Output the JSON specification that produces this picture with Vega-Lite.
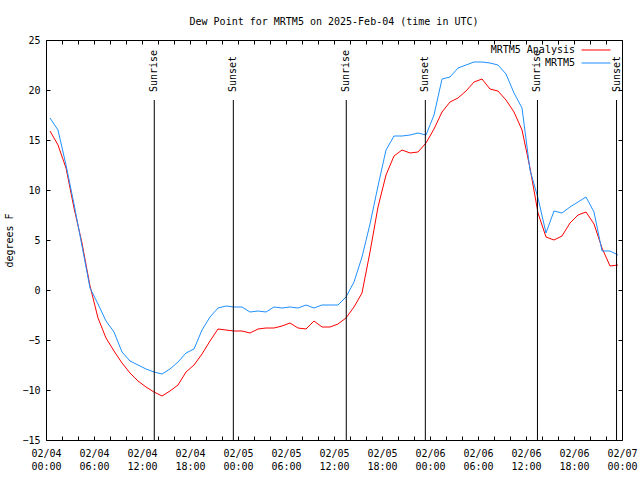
{
  "$schema": "https://vega.github.io/schema/vega-lite/v6.json",
  "width": 576,
  "height": 400,
  "autosize": {"type": "none"},
  "padding": {"left": 46, "top": 40, "right": 18, "bottom": 40},
  "background": "white",
  "title": {"text": "Dew Point for MRTM5 on 2025-Feb-04 (time in UTC)", "font": "DejaVu Sans Mono", "fontSize": 10, "fontWeight": "normal", "color": "black", "anchor": "middle", "baseline": "alphabetic", "offset": 0},
  "config": {
    "view": {"stroke": "black", "strokeWidth": 1},
    "font": "DejaVu Sans Mono",
    "axis": {"domain": false, "grid": false, "labelFont": "DejaVu Sans Mono", "labelFontSize": 10, "labelColor": "black", "titleFont": "DejaVu Sans Mono", "titleFontSize": 10, "titleFontWeight": "normal", "titleColor": "black", "tickColor": "black", "labelOverlap": false, "labelFlush": false, "labelBound": false}
  },
  "datasets": {
    "dew": [
      {"t": "2025-02-04T00:30:00Z", "a": 15.9, "m": 17.2},
      {"t": "2025-02-04T01:30:00Z", "a": 14.5, "m": 16.0},
      {"t": "2025-02-04T02:30:00Z", "a": 12.2, "m": 12.5},
      {"t": "2025-02-04T03:30:00Z", "a": 8.2, "m": 8.6},
      {"t": "2025-02-04T04:30:00Z", "a": 4.7, "m": 4.4},
      {"t": "2025-02-04T05:30:00Z", "a": 0.4, "m": 0.2},
      {"t": "2025-02-04T06:30:00Z", "a": -2.8, "m": -1.4},
      {"t": "2025-02-04T07:30:00Z", "a": -4.8, "m": -3.1},
      {"t": "2025-02-04T08:30:00Z", "a": -6.1, "m": -4.2},
      {"t": "2025-02-04T09:30:00Z", "a": -7.3, "m": -6.2},
      {"t": "2025-02-04T10:30:00Z", "a": -8.3, "m": -7.1},
      {"t": "2025-02-04T11:30:00Z", "a": -9.1, "m": -7.5},
      {"t": "2025-02-04T12:30:00Z", "a": -9.7, "m": -7.9},
      {"t": "2025-02-04T13:30:00Z", "a": -10.2, "m": -8.2},
      {"t": "2025-02-04T14:30:00Z", "a": -10.6, "m": -8.4},
      {"t": "2025-02-04T15:30:00Z", "a": -10.1, "m": -7.9},
      {"t": "2025-02-04T16:30:00Z", "a": -9.5, "m": -7.2},
      {"t": "2025-02-04T17:30:00Z", "a": -8.2, "m": -6.3},
      {"t": "2025-02-04T18:30:00Z", "a": -7.5, "m": -5.9},
      {"t": "2025-02-04T19:30:00Z", "a": -6.4, "m": -4.0},
      {"t": "2025-02-04T20:30:00Z", "a": -5.1, "m": -2.7},
      {"t": "2025-02-04T21:30:00Z", "a": -3.9, "m": -1.8},
      {"t": "2025-02-04T22:30:00Z", "a": -4.0, "m": -1.6},
      {"t": "2025-02-04T23:30:00Z", "a": -4.1, "m": -1.7},
      {"t": "2025-02-05T00:30:00Z", "a": -4.1, "m": -1.7},
      {"t": "2025-02-05T01:30:00Z", "a": -4.3, "m": -2.2},
      {"t": "2025-02-05T02:30:00Z", "a": -3.9, "m": -2.1},
      {"t": "2025-02-05T03:30:00Z", "a": -3.8, "m": -2.2},
      {"t": "2025-02-05T04:30:00Z", "a": -3.8, "m": -1.7},
      {"t": "2025-02-05T05:30:00Z", "a": -3.6, "m": -1.8},
      {"t": "2025-02-05T06:30:00Z", "a": -3.3, "m": -1.7},
      {"t": "2025-02-05T07:30:00Z", "a": -3.8, "m": -1.8},
      {"t": "2025-02-05T08:30:00Z", "a": -3.9, "m": -1.5},
      {"t": "2025-02-05T09:30:00Z", "a": -3.1, "m": -1.8},
      {"t": "2025-02-05T10:30:00Z", "a": -3.7, "m": -1.5},
      {"t": "2025-02-05T11:30:00Z", "a": -3.7, "m": -1.5},
      {"t": "2025-02-05T12:30:00Z", "a": -3.4, "m": -1.5},
      {"t": "2025-02-05T13:30:00Z", "a": -2.8, "m": -0.7},
      {"t": "2025-02-05T14:30:00Z", "a": -1.7, "m": 0.8},
      {"t": "2025-02-05T15:30:00Z", "a": -0.3, "m": 3.3},
      {"t": "2025-02-05T16:30:00Z", "a": 3.8, "m": 6.6},
      {"t": "2025-02-05T17:30:00Z", "a": 8.3, "m": 10.4},
      {"t": "2025-02-05T18:30:00Z", "a": 11.5, "m": 14.0},
      {"t": "2025-02-05T19:30:00Z", "a": 13.4, "m": 15.4},
      {"t": "2025-02-05T20:30:00Z", "a": 14.0, "m": 15.4},
      {"t": "2025-02-05T21:30:00Z", "a": 13.7, "m": 15.5},
      {"t": "2025-02-05T22:30:00Z", "a": 13.8, "m": 15.7},
      {"t": "2025-02-05T23:30:00Z", "a": 14.7, "m": 15.5},
      {"t": "2025-02-06T00:30:00Z", "a": 16.1, "m": 17.5},
      {"t": "2025-02-06T01:30:00Z", "a": 17.8, "m": 21.1},
      {"t": "2025-02-06T02:30:00Z", "a": 18.8, "m": 21.3},
      {"t": "2025-02-06T03:30:00Z", "a": 19.2, "m": 22.2},
      {"t": "2025-02-06T04:30:00Z", "a": 19.9, "m": 22.5},
      {"t": "2025-02-06T05:30:00Z", "a": 20.8, "m": 22.8},
      {"t": "2025-02-06T06:30:00Z", "a": 21.1, "m": 22.8},
      {"t": "2025-02-06T07:30:00Z", "a": 20.1, "m": 22.7},
      {"t": "2025-02-06T08:30:00Z", "a": 19.9, "m": 22.5},
      {"t": "2025-02-06T09:30:00Z", "a": 19.0, "m": 21.6},
      {"t": "2025-02-06T10:30:00Z", "a": 17.8, "m": 19.7},
      {"t": "2025-02-06T11:30:00Z", "a": 16.0, "m": 18.2},
      {"t": "2025-02-06T12:30:00Z", "a": 12.2, "m": 12.0},
      {"t": "2025-02-06T13:30:00Z", "a": 7.7, "m": 9.2},
      {"t": "2025-02-06T14:30:00Z", "a": 5.3, "m": 5.7},
      {"t": "2025-02-06T15:30:00Z", "a": 5.0, "m": 7.9},
      {"t": "2025-02-06T16:30:00Z", "a": 5.4, "m": 7.7},
      {"t": "2025-02-06T17:30:00Z", "a": 6.7, "m": 8.3},
      {"t": "2025-02-06T18:30:00Z", "a": 7.5, "m": 8.8},
      {"t": "2025-02-06T19:30:00Z", "a": 7.8, "m": 9.3},
      {"t": "2025-02-06T20:30:00Z", "a": 6.6, "m": 7.8},
      {"t": "2025-02-06T21:30:00Z", "a": 4.2, "m": 3.9},
      {"t": "2025-02-06T22:30:00Z", "a": 2.4, "m": 3.9},
      {"t": "2025-02-06T23:30:00Z", "a": 2.5, "m": 3.5}
    ],
    "sun": [
      {"t": "2025-02-04T13:32:00Z", "e": "Sunrise"},
      {"t": "2025-02-04T23:25:00Z", "e": "Sunset"},
      {"t": "2025-02-05T13:32:00Z", "e": "Sunrise"},
      {"t": "2025-02-05T23:25:00Z", "e": "Sunset"},
      {"t": "2025-02-06T13:26:00Z", "e": "Sunrise"},
      {"t": "2025-02-06T23:19:00Z", "e": "Sunset"}
    ]
  },
  "layer": [
    {
      "data": {"name": "dew"},
      "transform": [{"fold": ["a", "m"], "as": ["k", "v"]}],
      "mark": {"type": "line", "strokeWidth": 1},
      "encoding": {
        "x": {
          "field": "t", "type": "temporal",
          "scale": {"type": "utc", "domain": [1738627200000, 1738886400000], "nice": false},
          "axis": {
            "orient": "bottom", "title": null,
            "values": [1738627200000, 1738634400000, 1738641600000, 1738648800000, 1738656000000, 1738663200000, 1738670400000, 1738677600000, 1738684800000, 1738692000000, 1738699200000, 1738706400000, 1738713600000, 1738720800000, 1738728000000, 1738735200000, 1738742400000, 1738749600000, 1738756800000, 1738764000000, 1738771200000, 1738778400000, 1738785600000, 1738792800000, 1738800000000, 1738807200000, 1738814400000, 1738821600000, 1738828800000, 1738836000000, 1738843200000, 1738850400000, 1738857600000, 1738864800000, 1738872000000, 1738879200000, 1738886400000],
            "tickSize": -4,
            "encode": {"ticks": {"update": {"y2": {"signal": "utchours(datum.value) % 6 === 0 ? -5 : -3"}}}},
            "labelExpr": "utchours(datum.value) % 6 === 0 ? [utcFormat(datum.value, '%m/%d'), utcFormat(datum.value, '%H:%M')] : ''",
            "labelPadding": 12, "labelLineHeight": 13, "labelAlign": "center"
          }
        },
        "y": {
          "field": "v", "type": "quantitative",
          "scale": {"domain": [-15, 25], "nice": false, "zero": false},
          "axis": {"orient": "left", "title": "degrees F", "values": [-15, -10, -5, 0, 5, 10, 15, 20, 25], "tickSize": -4, "labelPadding": 10, "titlePadding": 7}
        },
        "color": {
          "field": "k", "type": "nominal",
          "scale": {"domain": ["a", "m"], "range": ["#ff0000", "#1e90ff"]},
          "legend": {
            "title": null, "orient": "none", "legendX": 535, "legendY": 5, "padding": 0,
            "symbolType": "stroke", "symbolSize": 841, "symbolStrokeWidth": 1,
            "encode": {"symbols": {"update": {"y": {"value": 5}}}, "labels": {"update": {"y": {"value": 5}}}},
            "labelExpr": "datum.label === 'a' ? 'MRTM5 Analysis' : 'MRTM5'",
            "labelFont": "DejaVu Sans Mono", "labelFontSize": 10, "labelColor": "black",
            "labelAlign": "right", "labelOffset": -36, "rowPadding": 3
          }
        }
      }
    },
    {
      "data": {"name": "sun"},
      "mark": {"type": "rule", "color": "black", "strokeWidth": 1},
      "encoding": {
        "x": {
          "field": "t", "type": "temporal",
          "axis": {
            "orient": "top", "title": null, "labels": false,
            "values": [1738627200000, 1738634400000, 1738641600000, 1738648800000, 1738656000000, 1738663200000, 1738670400000, 1738677600000, 1738684800000, 1738692000000, 1738699200000, 1738706400000, 1738713600000, 1738720800000, 1738728000000, 1738735200000, 1738742400000, 1738749600000, 1738756800000, 1738764000000, 1738771200000, 1738778400000, 1738785600000, 1738792800000, 1738800000000, 1738807200000, 1738814400000, 1738821600000, 1738828800000, 1738836000000, 1738843200000, 1738850400000, 1738857600000, 1738864800000, 1738872000000, 1738879200000, 1738886400000],
            "tickSize": -4,
            "encode": {"ticks": {"update": {"y2": {"signal": "utchours(datum.value) % 6 === 0 ? 5 : 3"}}}}
          }
        },
        "y": {"datum": 19, "type": "quantitative", "axis": {"orient": "right", "title": null, "labels": false, "values": [-15, -10, -5, 0, 5, 10, 15, 20, 25], "tickSize": -4}},
        "y2": {"datum": -15}
      }
    },
    {
      "data": {"name": "sun"},
      "mark": {"type": "text", "angle": 270, "align": "left", "baseline": "middle", "font": "DejaVu Sans Mono", "fontSize": 10, "color": "black"},
      "encoding": {
        "x": {"field": "t", "type": "temporal", "axis": null},
        "y": {"datum": 19.8, "type": "quantitative", "axis": null},
        "text": {"field": "e"}
      }
    }
  ],
  "resolve": {"axis": {"x": "independent", "y": "independent"}}
}
